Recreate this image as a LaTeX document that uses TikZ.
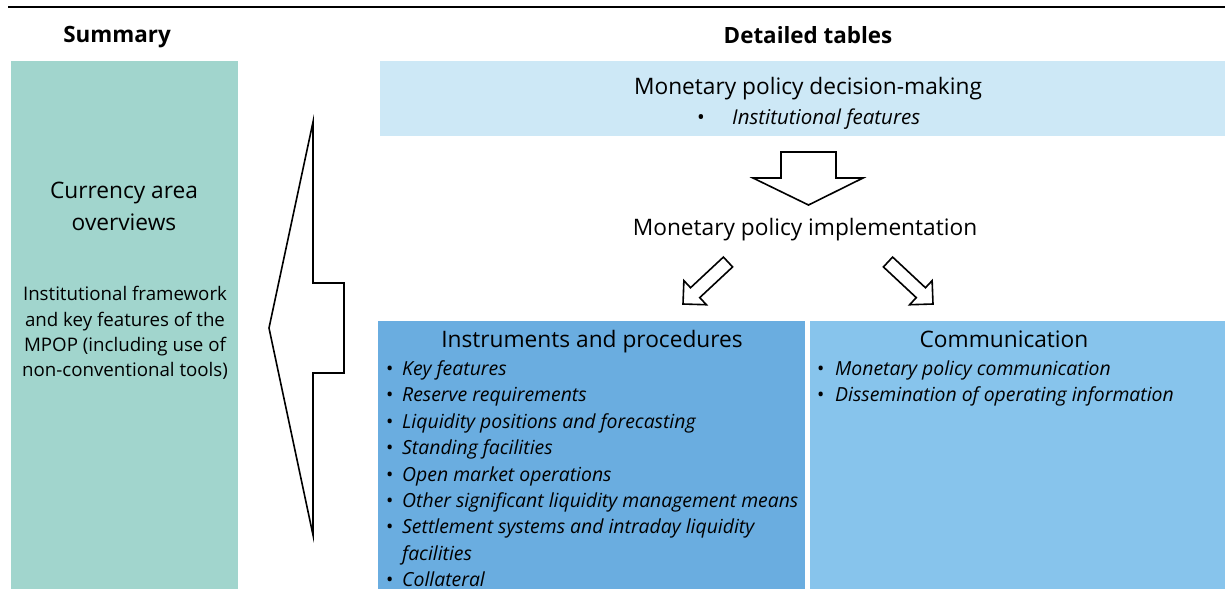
\documentclass[tikz,border=0pt]{standalone}
\usepackage{fontspec}
\setmainfont{Open Sans}
\usetikzlibrary{calc}
\definecolor{sumfill}{RGB}{161,213,205}
\definecolor{decfill}{RGB}{205,232,246}
\definecolor{insfill}{RGB}{106,173,224}
\definecolor{comfill}{RGB}{135,196,236}

% block arrow from #1 (tail centre) to #2 (tip):
% #3 shaft half width, #4 head half width, #5 head length
\newcommand\fatarrow[5]{%
  \coordinate (fa-b) at ($(#2)!#5!(#1)$);
  \draw[outline] ($(#1)!#3!90:(#2)$) -- ($(fa-b)!#3!90:(#2)$)
    -- ($(fa-b)!#4!90:(#2)$) -- (#2) -- ($(fa-b)!#4!-90:(#2)$)
    -- ($(fa-b)!#3!-90:(#2)$) -- ($(#1)!#3!-90:(#2)$) -- cycle;
}

\begin{document}
\begin{tikzpicture}[x=1pt,y=-1pt,
  outline/.style={draw=black,line width=1.6pt,line join=miter,fill=white},
  heading/.style={font=\fontsize{22.4}{26}\bfseries\selectfont,anchor=mid,inner sep=0pt},
  title/.style={font=\fontsize{22.7}{26}\selectfont,anchor=mid,inner sep=0pt},
  body/.style={font=\fontsize{18.7}{25.3}\selectfont,align=center},
  item/.style={font=\fontsize{19.4}{24}\selectfont,anchor=mid west,inner sep=0pt}
]
\useasboundingbox (0,0) rectangle (1225,589);

% top rule
\coordinate (rl) at (8,7);
\coordinate (rr) at (1225,7);
\draw[line width=2.2pt] (rl) -- (rr);

% headings
\node[heading] (hsum) at (117,39.5) {Summary};
\node[heading] (hdet) at (808,41) {Detailed tables};

% summary column
\fill[sumfill] (11,61) rectangle (238,589);
\node[title] (cur1) at (124,196) {Currency area};
\node[title] (cur2) at (124,228) {overviews};
\node[body] (inst) at (125,333) {Institutional framework\\and key features of the\\MPOP (including use of\\non-conventional tools)};

% big arrow pointing to the summary
\draw[outline] (313,122) -- (313,283) -- (344,283) -- (344,373) -- (313,373)
  -- (313,535) -- (269,328) -- cycle;

% decision-making box
\fill[decfill] (380,61) rectangle (1225,136);
\node[title] (dec) at (808,92) {Monetary policy decision-making};
\node[item,font=\fontsize{20.5}{24}\selectfont] (decl) at (697,121.5)
  {\makebox[35pt][l]{\textbullet}\textit{Institutional features}};

% arrow down to implementation
\draw[outline] (781,152) -- (836,152) -- (836,178) -- (863,178) -- (808.5,205)
  -- (753,178) -- (781,178) -- cycle;
\node[title] (impl) at (805,233) {Monetary policy implementation};

% arrows to the two tables
\coordinate (la0) at (728,262);
\coordinate (la1) at (683,304);
\coordinate (ra0) at (888,262);
\coordinate (ra1) at (933,304);
\fatarrow{la0}{la1}{6.75pt}{16.5pt}{16.6pt}
\fatarrow{ra0}{ra1}{6.75pt}{16.5pt}{16.6pt}

% instruments and procedures
\fill[insfill] (378,321) rectangle (805,589);
\node[title] (ins) at (592,345) {Instruments and procedures};
\foreach \t [count=\i] in {Key features, Reserve requirements,
    Liquidity positions and forecasting, Standing facilities,
    Open market operations, Other significant liquidity management means,
    Settlement systems and intraday liquidity}
  \node[item] (ins\i) at (386,{372.8+26.4*(\i-1)})
    {\makebox[16pt][l]{\textbullet}\textit{\t}};
\node[item] (ins7b) at (402,557.6) {\textit{facilities}};
\node[item] (ins8) at (386,584) {\makebox[16pt][l]{\textbullet}\textit{Collateral}};

% communication
\fill[comfill] (810,321) rectangle (1225,589);
\node[title] (com) at (1004,345) {Communication};
\node[item] (com1) at (817,372.8)
  {\makebox[18pt][l]{\textbullet}\textit{Monetary policy communication}};
\node[item] (com2) at (817,399.2)
  {\makebox[18pt][l]{\textbullet}\textit{Dissemination of operating information}};
\end{tikzpicture}
\end{document}
